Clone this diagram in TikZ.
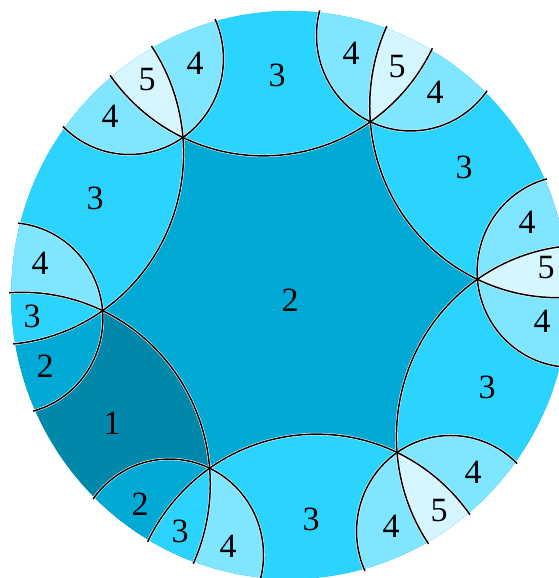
\documentclass[tikz,border=0pt]{standalone}
\usepackage{fontspec}
\setmainfont{Liberation Serif}
\definecolor{cA}{HTML}{0088AA}
\definecolor{cB}{HTML}{00AAD4}
\definecolor{cC}{HTML}{2AD4FF}
\definecolor{cD}{HTML}{80E5FF}
\definecolor{cE}{HTML}{D5F6FF}
\tikzset{
  ecap/.style={insert path={({#1*60+34.7}:1.224745) circle (0.707107)}},
  gcap/.style={insert path={({#1*60+4.7}:1.06066) circle (0.353553)}},
  halo/.style={draw=white, line width=2.6pt},
  geo/.style={draw=black, line width=1.5pt},
  lab/.style={inner sep=0pt, font=\fontsize{34}{34}\selectfont}
}
\begin{document}
\begin{tikzpicture}
\useasboundingbox (0,0) rectangle (558pt,578pt);
\begin{scope}[shift={(290pt,283pt)}, xscale=9.3489, yscale=9.5246]
  \def\Rv{1.048}
  \def\Rl{1.056}
  % base: central tile
  \fill[cB] (0,0) circle (\Rv);
  % edge neighbours
  \foreach \k/\c in {0/cC,1/cC,2/cC,3/cA,4/cC,5/cC}{
    \begin{scope}
      \clip (0,0) circle (\Rv);
      \fill[\c, ecap=\k];
    \end{scope}
  }
  % vertex tiles
  \foreach \k/\p/\a/\b/\m in {0/5/cD/cD/cE, 1/0/cD/cD/cE, 2/1/cD/cD/cE, 3/2/cB/cD/cC, 4/3/cD/cB/cC, 5/4/cD/cD/cE}{
    \begin{scope}
      \clip (0,0) circle (\Rv);
      \clip[gcap=\k];
      \fill[\a, ecap=\k];
    \end{scope}
    \begin{scope}
      \clip (0,0) circle (\Rv);
      \clip[gcap=\k];
      \fill[\b, ecap=\p];
    \end{scope}
    \begin{scope}
      \clip (0,0) circle (\Rv);
      \clip[ecap=\k];
      \fill[\m, ecap=\p];
    \end{scope}
  }
  % geodesic lines
  \begin{scope}
    \clip (0,0) circle (\Rl);
    \foreach \k in {0,...,5}{
      \path[halo, ecap=\k];
      \path[halo, gcap=\k];
    }
    \foreach \k in {0,...,5}{
      \path[geo, ecap=\k];
      \path[geo, gcap=\k];
    }
  \end{scope}
\end{scope}
% labels (pixel positions, y measured from top)
\foreach \n/\x/\y/\t in {
  c/290/300/2, nT/277/75/3, tl1/110/116/4, tl2/147/80/5, tl3/195/63/4,
  tr1/351/53/4, tr2/397/67/5, tr3/435/92/4, nNE/464/167/3,
  r1/527/222/4, r2/546/268/5, r3/542/321/4, nE/487/387/3,
  br1/473/472/4, br2/439/511/5, br3/391/526/4, nS/311/519/3,
  bl1/228/546/4, bl2/180/531/3, bl3/140/504/2, one/112/423/1,
  l1/45/366/2, l2/32/316/3, l3/40/263/4, nW/95/198/3}{
  \node[lab] (\n) at (\x pt, 578pt-\y pt) {\t};
}
\end{tikzpicture}
\end{document}
